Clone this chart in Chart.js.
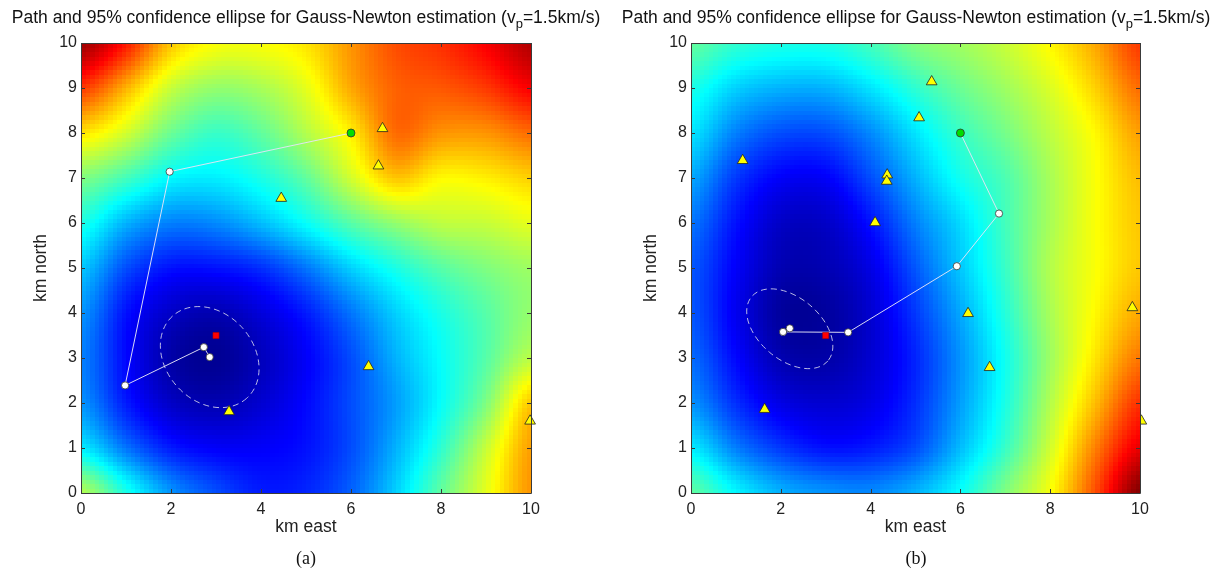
<!DOCTYPE html>
<html>
<head>
<meta charset="utf-8">
<script src="https://cdn.jsdelivr.net/npm/chart.js@4.4.0/dist/chart.umd.min.js"></script>
<style>
  body { margin: 0; background: #fff; width: 1219px; height: 571px; position: relative; overflow: hidden;
         font-family: "Liberation Sans", Arial, sans-serif; }
  .panel { position: absolute; top: 0; height: 571px; }
  .panel canvas { position: absolute; left: 0; top: 0; }
  .title { position: absolute; top: 9px; left: 0; width: 612px; text-align: center; font-size: 17.5px;
           line-height: 16px; color: #111; white-space: nowrap; }
  .title sub { font-size: 13px; vertical-align: -5px; line-height: 0; }
  .caption { position: absolute; top: 548px; left: 0; width: 612px; text-align: center;
             font-family: "Liberation Serif", "DejaVu Serif", serif; font-size: 18px; color: #111; }
</style>
</head>
<body>
<div class="panel" style="left:0;width:610px">
  <canvas id="chartA" width="610" height="571"></canvas>
  <div class="title">Path and 95% confidence ellipse for Gauss-Newton estimation (v<sub>p</sub>=1.5km/s)</div>
  <div class="caption">(a)</div>
</div>
<div class="panel" style="left:610px;width:609px">
  <canvas id="chartB" width="609" height="571"></canvas>
  <div class="title">Path and 95% confidence ellipse for Gauss-Newton estimation (v<sub>p</sub>=1.5km/s)</div>
  <div class="caption">(b)</div>
</div>
<script>
// ===== Data (km) =====
var xTickValues = [0, 2, 4, 6, 8, 10];
var yTickValues = [0, 1, 2, 3, 4, 5, 6, 7, 8, 9, 10];

// misfit surface, colour index 0..1, read at 1 km nodes
// rows go from north = 10 (first) down to north = 0 (last), columns east = 0..10
var misfitA = [
  [0.97, 0.85, 0.68, 0.62, 0.62, 0.65, 0.73, 0.80, 0.83, 0.88, 0.95],
  [0.82, 0.70, 0.57, 0.52, 0.54, 0.60, 0.71, 0.78, 0.79, 0.82, 0.88],
  [0.65, 0.58, 0.48, 0.43, 0.47, 0.55, 0.64, 0.77, 0.73, 0.73, 0.77],
  [0.50, 0.44, 0.37, 0.36, 0.40, 0.47, 0.58, 0.68, 0.63, 0.64, 0.67],
  [0.40, 0.30, 0.25, 0.26, 0.31, 0.38, 0.46, 0.52, 0.56, 0.57, 0.60],
  [0.32, 0.20, 0.14, 0.14, 0.17, 0.24, 0.33, 0.40, 0.46, 0.50, 0.53],
  [0.27, 0.14, 0.07, 0.05, 0.09, 0.15, 0.24, 0.33, 0.40, 0.46, 0.52],
  [0.25, 0.13, 0.04, 0.02, 0.06, 0.12, 0.20, 0.30, 0.38, 0.46, 0.56],
  [0.27, 0.15, 0.07, 0.05, 0.08, 0.13, 0.20, 0.28, 0.38, 0.50, 0.68],
  [0.36, 0.24, 0.15, 0.12, 0.12, 0.14, 0.20, 0.30, 0.42, 0.57, 0.72],
  [0.55, 0.40, 0.27, 0.20, 0.15, 0.16, 0.22, 0.33, 0.47, 0.60, 0.73]
];
var misfitB = [
  [0.47, 0.42, 0.40, 0.40, 0.44, 0.50, 0.53, 0.57, 0.63, 0.71, 0.82],
  [0.40, 0.33, 0.30, 0.30, 0.35, 0.42, 0.48, 0.53, 0.59, 0.67, 0.77],
  [0.35, 0.25, 0.20, 0.20, 0.26, 0.35, 0.43, 0.49, 0.56, 0.63, 0.72],
  [0.29, 0.18, 0.12, 0.12, 0.20, 0.30, 0.39, 0.45, 0.54, 0.62, 0.69],
  [0.24, 0.14, 0.07, 0.07, 0.14, 0.25, 0.34, 0.44, 0.54, 0.62, 0.68],
  [0.21, 0.12, 0.05, 0.05, 0.10, 0.21, 0.32, 0.43, 0.55, 0.62, 0.68],
  [0.21, 0.11, 0.03, 0.03, 0.08, 0.18, 0.29, 0.41, 0.54, 0.63, 0.71],
  [0.23, 0.13, 0.05, 0.04, 0.08, 0.16, 0.27, 0.39, 0.53, 0.65, 0.76],
  [0.27, 0.17, 0.10, 0.08, 0.10, 0.17, 0.28, 0.40, 0.55, 0.69, 0.83],
  [0.36, 0.25, 0.18, 0.14, 0.15, 0.20, 0.31, 0.43, 0.58, 0.75, 0.90],
  [0.47, 0.37, 0.30, 0.27, 0.26, 0.30, 0.38, 0.50, 0.62, 0.80, 1.00]
];

// Gauss-Newton iterates (first one is the start point)
var pathAx = [6.0, 1.97, 0.98, 2.73, 2.86];
var pathAy = [8.0, 7.14, 2.39, 3.24, 3.02];
var pathBx = [6.0, 6.86, 5.92, 3.50, 2.05, 2.20];
var pathBy = [8.0, 6.21, 5.04, 3.57, 3.58, 3.66];

// stations
var stationsAx = [6.70, 6.61, 4.45, 6.39, 3.29, 9.98];
var stationsAy = [8.10, 7.27, 6.55, 2.81, 1.81, 1.60];
var stationsBx = [5.36, 5.08, 1.15, 4.37, 4.36, 4.10, 6.17, 6.65, 1.64, 9.83];
var stationsBy = [9.14, 8.34, 7.39, 7.07, 6.93, 6.01, 3.99, 2.79, 1.86, 4.12];
var edgeStationBx = [10.03];
var edgeStationBy = [1.60];

// true source
var sourceA = [3.0, 3.5];
var sourceB = [3.0, 3.5];

// 95% ellipses: centre, semi-axes (km), major-axis angle (deg)
var ellipseCenterA = [2.86, 3.02];
var ellipseAxesA = [1.23, 0.975];
var ellipseAngleA = -48;
var ellipseCenterB = [2.20, 3.65];
var ellipseAxesB = [1.11, 0.69];
var ellipseAngleB = -40;

// ===== Helpers =====
function jet(v) {
  v = Math.min(1, Math.max(0, v));
  function c(t) { return Math.round(255 * Math.min(1, Math.max(0, t))); }
  return [c(1.5 - Math.abs(4 * v - 3)), c(1.5 - Math.abs(4 * v - 2)), c(1.5 - Math.abs(4 * v - 1))];
}

// smooth shading between the read nodes (display only)
function sampleGrid(rows, gx, gy) {
  var n = rows.length - 1;
  var fx = gx, fy = n - gy;
  var ix = Math.floor(fx), iy = Math.floor(fy);
  var tx = fx - ix, ty = fy - iy;
  function at(r, c) { return rows[Math.min(n, Math.max(0, r))][Math.min(n, Math.max(0, c))]; }
  function cr(p0, p1, p2, p3, t) {
    return p1 + 0.5 * t * (p2 - p0 + t * (2 * p0 - 5 * p1 + 4 * p2 - p3 + t * (3 * (p1 - p2) + p3 - p0)));
  }
  var col = [];
  for (var k = -1; k <= 2; k++) {
    col.push(cr(at(iy + k, ix - 1), at(iy + k, ix), at(iy + k, ix + 1), at(iy + k, ix + 2), tx));
  }
  return cr(col[0], col[1], col[2], col[3], ty);
}

function xy(xs, ys) {
  return xs.map(function(x, i) { return { x: x, y: ys[i] }; });
}

// heatmap + ellipse under the marks
function backgroundPlugin(misfit, eCenter, eAxes, eAngle) {
  return {
    id: 'background',
    beforeDatasetsDraw: function(chart) {
      var ctx = chart.ctx, xs = chart.scales.x, ys = chart.scales.y;
      var cells = 100;
      var off = document.createElement('canvas');
      off.width = cells; off.height = cells;
      var octx = off.getContext('2d');
      var img = octx.createImageData(cells, cells);
      for (var j = 0; j < cells; j++) {
        for (var i = 0; i < cells; i++) {
          var gx = (i + 0.5) / cells * 10;
          var gy = 10 - (j + 0.5) / cells * 10;
          var rgb = jet(sampleGrid(misfit, gx, gy));
          var p = (j * cells + i) * 4;
          img.data[p] = rgb[0]; img.data[p + 1] = rgb[1]; img.data[p + 2] = rgb[2]; img.data[p + 3] = 255;
        }
      }
      octx.putImageData(img, 0, 0);
      var x0 = xs.getPixelForValue(0), x1 = xs.getPixelForValue(10);
      var y0 = ys.getPixelForValue(0), y1 = ys.getPixelForValue(10);
      ctx.save();
      ctx.imageSmoothingEnabled = false;
      ctx.drawImage(off, x0, y1, x1 - x0, y0 - y1);

      // confidence ellipse
      var cx = xs.getPixelForValue(eCenter[0]), cy = ys.getPixelForValue(eCenter[1]);
      var rx = Math.abs(xs.getPixelForValue(eCenter[0] + eAxes[0]) - cx);
      var ry = Math.abs(ys.getPixelForValue(eCenter[1] + eAxes[1]) - cy);
      ctx.beginPath();
      ctx.ellipse(cx, cy, rx, ry, -eAngle * Math.PI / 180, 0, 2 * Math.PI);
      ctx.setLineDash([6, 4]);
      ctx.lineWidth = 1;
      ctx.strokeStyle = 'rgba(205,205,235,0.9)';
      ctx.stroke();
      ctx.restore();
    }
  };
}

// box with inward ticks on all four sides
var framePlugin = {
  id: 'frame',
  afterDatasetsDraw: function(chart) {
    var ctx = chart.ctx, xs = chart.scales.x, ys = chart.scales.y, a = chart.chartArea;
    var len = 4;
    ctx.save();
    ctx.strokeStyle = '#3a3a3a';
    ctx.lineWidth = 1;
    ctx.beginPath();
    ctx.rect(Math.round(a.left) + 0.5, Math.round(a.top) + 0.5, Math.round(a.right - a.left), Math.round(a.bottom - a.top));
    xTickValues.forEach(function(v) {
      var px = Math.round(xs.getPixelForValue(v)) + 0.5;
      ctx.moveTo(px, a.bottom); ctx.lineTo(px, a.bottom - len);
      ctx.moveTo(px, a.top); ctx.lineTo(px, a.top + len);
    });
    yTickValues.forEach(function(v) {
      var py = Math.round(ys.getPixelForValue(v)) + 0.5;
      ctx.moveTo(a.left, py); ctx.lineTo(a.left + len, py);
      ctx.moveTo(a.right, py); ctx.lineTo(a.right - len, py);
    });
    ctx.stroke();
    ctx.restore();
  }
};

function buildPanel(canvasId, misfit, pathX, pathY, stX, stY, source, eC, eA, eAng, extra) {
  var ctx = document.getElementById(canvasId);
  var datasets = [
    {
      data: [{ x: source[0], y: source[1] }],
      pointStyle: 'rect', pointRadius: 4.3,
      pointBackgroundColor: '#ff0000', pointBorderColor: '#b00000', pointBorderWidth: 0.6,
      order: 0, clip: false
    },
    {
      data: xy(pathX, pathY), showLine: true,
      borderColor: 'rgba(228,228,245,0.95)', borderWidth: 1,
      pointRadius: function(c) { return c.dataIndex === 0 ? 4 : 3.6; },
      pointBackgroundColor: function(c) { return c.dataIndex === 0 ? '#00dd00' : '#ffffff'; },
      pointBorderColor: '#333', pointBorderWidth: 0.8,
      order: 1, clip: false
    },
    {
      data: xy(stX, stY),
      pointStyle: 'triangle', pointRadius: 6.2,
      pointBackgroundColor: '#ffff00', pointBorderColor: '#222', pointBorderWidth: 0.8,
      order: 2, clip: false
    }
  ];
  if (extra) datasets.push(extra);

  return new Chart(ctx, {
    type: 'scatter',
    data: { datasets: datasets },
    plugins: [backgroundPlugin(misfit, eC, eA, eAng), framePlugin],
    options: {
      responsive: false,
      animation: false,
      events: [],
      layout: { padding: { left: 0, top: 43, right: 79, bottom: 33 } },
      plugins: { legend: { display: false }, tooltip: { enabled: false } },
      scales: {
        x: {
          type: 'linear', min: 0, max: 10,
          afterBuildTicks: function(s) { s.ticks = xTickValues.map(function(v) { return { value: v }; }); },
          afterFit: function(s) { s.height = 45; },
          grid: { display: false, drawTicks: false },
          border: { display: false },
          ticks: { padding: 7, color: '#222', font: { family: 'Liberation Sans', size: 16 }, maxRotation: 0 },
          title: { display: true, text: 'km east', color: '#222', font: { family: 'Liberation Sans', size: 17.5 },
                   padding: { top: 0, bottom: 0 } }
        },
        y: {
          type: 'linear', min: 0, max: 10,
          afterBuildTicks: function(s) { s.ticks = yTickValues.map(function(v) { return { value: v }; }); },
          afterFit: function(s) { s.width = 81; },
          grid: { display: false, drawTicks: false },
          border: { display: false },
          ticks: { padding: 4, color: '#222', font: { family: 'Liberation Sans', size: 16 } },
          title: { display: true, text: 'km north', color: '#222', font: { family: 'Liberation Sans', size: 17.5 },
                   padding: { top: 31, bottom: 0 } }
        }
      }
    }
  });
}

buildPanel('chartA', misfitA, pathAx, pathAy, stationsAx, stationsAy, sourceA,
           ellipseCenterA, ellipseAxesA, ellipseAngleA, null);

// the station on the right edge of (b) only shows outside the image
buildPanel('chartB', misfitB, pathBx, pathBy, stationsBx, stationsBy, sourceB,
           ellipseCenterB, ellipseAxesB, ellipseAngleB, {
             data: xy(edgeStationBx, edgeStationBy),
             pointStyle: 'triangle', pointRadius: 6.2,
             pointBackgroundColor: '#ffff00', pointBorderColor: '#222', pointBorderWidth: 0.8,
             order: 3, clip: { left: -449, right: 20, top: 0, bottom: 0 }
           });
</script>
</body>
</html>
